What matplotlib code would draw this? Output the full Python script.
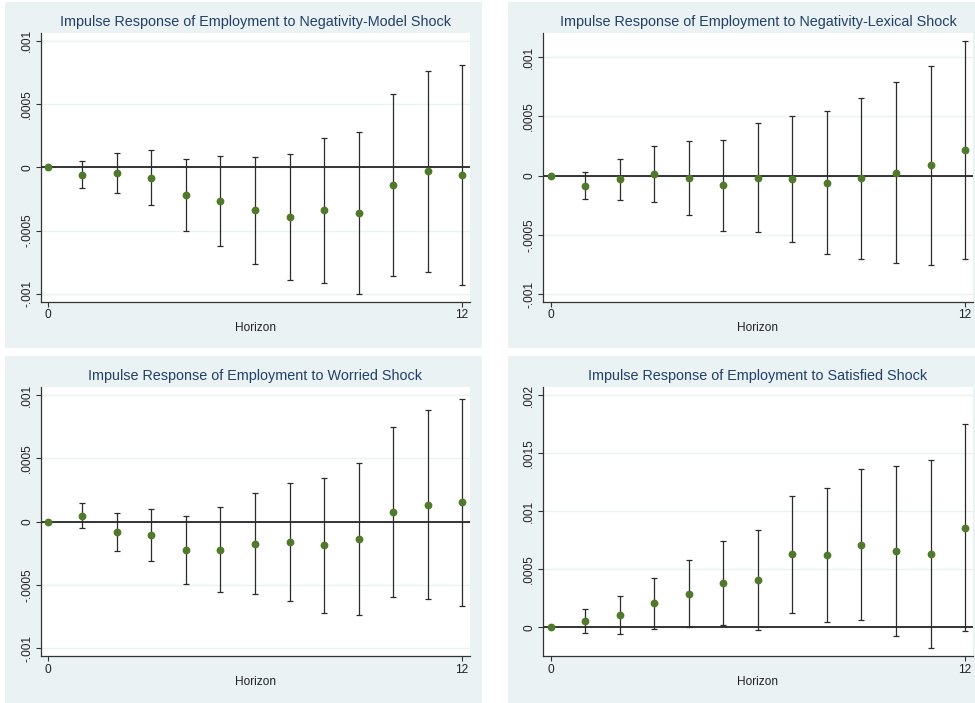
# Respuestas impulso del empleo a cuatro choques (4 paneles, estilo Stata s2color)
import numpy as np
import matplotlib
matplotlib.use('Agg')
import matplotlib.pyplot as plt
from matplotlib.patches import Rectangle

plt.rcParams['font.family'] = ['Liberation Sans', 'DejaVu Sans']

# --------------------------
# Datos
# --------------------------
horizonte = np.arange(13)

titulos = ['Impulse Response of Employment to Negativity-Model Shock',
           'Impulse Response of Employment to Negativity-Lexical Shock',
           'Impulse Response of Employment to Worried Shock',
           'Impulse Response of Employment to Satisfied Shock']

irf_modelo = [0, -0.000058, -0.000042, -0.000084, -0.000216, -0.000266, -0.00034,
              -0.000392, -0.00034, -0.000358, -0.000137, -0.000029, -0.000061]
sup_modelo = [0, 0.000047, 0.000116, 0.000134, 0.000068, 0.000087, 0.000084,
              0.000103, 0.000229, 0.000282, 0.000579, 0.000763, 0.000805]
inf_modelo = [0, -0.000166, -0.0002, -0.0003, -0.0005, -0.000621, -0.000763,
              -0.000887, -0.00091, -0.001, -0.000855, -0.000824, -0.000932]

irf_lexico = [0, -0.000084, -0.000031, 0.000017, -0.000022, -0.000081, -0.00002,
              -0.000031, -0.000059, -0.00002, 0.000025, 0.000087, 0.000216]
sup_lexico = [0, 0.000031, 0.000143, 0.000253, 0.000289, 0.0003, 0.000441,
              0.000506, 0.00055, 0.00066, 0.000787, 0.00093, 0.001138]
inf_lexico = [0, -0.0002, -0.000202, -0.000222, -0.000329, -0.000463, -0.000478,
              -0.000562, -0.000663, -0.0007, -0.000736, -0.000756, -0.000705]

irf_preocupado = [0, 0.000047, -0.000082, -0.000103, -0.000226, -0.000224, -0.000174,
                  -0.000161, -0.000187, -0.000139, 0.000076, 0.000132, 0.000153]
sup_preocupado = [0, 0.000145, 0.000066, 0.000103, 0.000042, 0.000113, 0.000224,
                  0.000305, 0.000345, 0.00046, 0.00075, 0.000879, 0.000968]
inf_preocupado = [0, -0.00005, -0.000229, -0.000308, -0.000492, -0.000555, -0.000571,
                  -0.000626, -0.000718, -0.000739, -0.000592, -0.000611, -0.000663]

irf_satisfecho = [0, 0.000057, 0.000106, 0.000207, 0.00029, 0.000382, 0.000408,
                  0.000629, 0.000624, 0.000713, 0.000661, 0.000629, 0.000859]
sup_satisfecho = [0, 0.000161, 0.000267, 0.000428, 0.000583, 0.000744, 0.000842,
                  0.001135, 0.001201, 0.001368, 0.001394, 0.00144, 0.00175]
inf_satisfecho = [0, -0.000052, -0.000055, -0.000017, 0.0, 0.00002, -0.00002,
                  0.000126, 0.000043, 0.00006, -0.000075, -0.000181, -0.000029]

ticks_y = [[-0.001, -0.0005, 0, 0.0005, 0.001],
           [-0.001, -0.0005, 0, 0.0005, 0.001],
           [-0.001, -0.0005, 0, 0.0005, 0.001],
           [0, 0.0005, 0.001, 0.0015, 0.002]]
etiquetas_y = [['-.001', '-.0005', '0', '.0005', '.001'],
               ['-.001', '-.0005', '0', '.0005', '.001'],
               ['-.001', '-.0005', '0', '.0005', '.001'],
               ['0', '.0005', '.001', '.0015', '.002']]

# --------------------------
# Estilo
# --------------------------
FONDO = '#eaf2f3'
AZUL_TITULO = '#22406a'
VERDE = '#4f7a28'
W, H = 975, 703

# rectangulos en pixeles (izq, der, arriba, abajo)
marcos = [(5, 482, 2, 348), (508, 975, 2, 348), (5, 482, 356, 703), (508, 975, 356, 703)]
areas = [(40.7, 470, 33.3, 301.7), (543, 973, 33.3, 301.7),
         (40.7, 470, 387, 656), (543, 973, 387, 656)]
limites_y = [(-0.001061, 0.001058), (-0.001063, 0.001202),
             (-0.00106, 0.001063), (-0.000247, 0.002072)]
limites_x = [(-0.21, 12.23), (-0.22, 12.23), (-0.21, 12.23), (-0.22, 12.23)]

series = [(irf_modelo, sup_modelo, inf_modelo),
          (irf_lexico, sup_lexico, inf_lexico),
          (irf_preocupado, sup_preocupado, inf_preocupado),
          (irf_satisfecho, sup_satisfecho, inf_satisfecho)]

fig = plt.figure(figsize=(W / 100, H / 100), dpi=100)
fig.patch.set_facecolor('white')

for i in range(4):
    x0, x1, y0, y1 = marcos[i]
    fig.patches.append(Rectangle((x0 / W, 1 - y1 / H), (x1 - x0) / W, (y1 - y0) / H,
                                 transform=fig.transFigure, facecolor=FONDO,
                                 edgecolor='none', zorder=-10))

    l, r, t, b = areas[i]
    ax = fig.add_axes([l / W, 1 - b / H, (r - l) / W, (b - t) / H])
    ax.set_zorder(5)
    ax.set_facecolor('white')

    irf, sup, inf = [np.array(s) for s in series[i]]
    err = np.vstack([irf - inf, sup - irf])

    ax.axhline(0, color='black', lw=1.1, zorder=2)
    ax.errorbar(horizonte, irf, yerr=err, fmt='none', ecolor='#2b2b2b',
                elinewidth=0.9, capsize=2.2, capthick=0.9, zorder=3)
    ax.plot(horizonte, irf, 'o', color=VERDE, markersize=4.6, zorder=4)

    ax.set_xlim(*limites_x[i])
    ax.set_ylim(*limites_y[i])
    ax.set_xticks([0, 12])
    ax.set_xticklabels(['0', '12'])
    ax.set_yticks(ticks_y[i])
    ax.set_yticklabels(etiquetas_y[i], rotation=90, va='center')
    ax.grid(axis='y', color=FONDO, lw=1.0, zorder=1)
    ax.set_axisbelow(True)

    for lado in ['top', 'right']:
        ax.spines[lado].set_visible(False)
    for lado in ['left', 'bottom']:
        ax.spines[lado].set_color('#333333')
        ax.spines[lado].set_linewidth(0.9)
    ax.tick_params(axis='both', length=3.5, width=0.8, color='#333333',
                   labelsize=8.6, labelcolor='#222222', pad=2)

    ax.set_xlabel('Horizon', fontsize=8.6, color='#222222', labelpad=0.5)
    ax.set_title(titulos[i], fontsize=10.4, color=AZUL_TITULO, pad=5)

fig.savefig('out.png', dpi=100, facecolor='white')
